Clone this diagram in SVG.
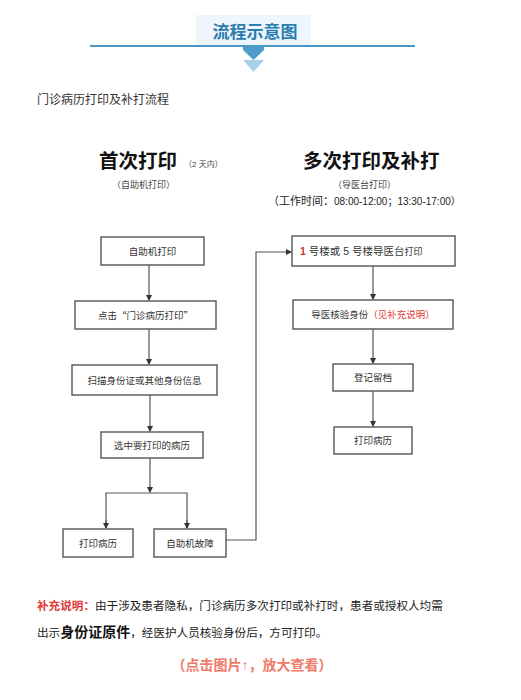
<svg xmlns="http://www.w3.org/2000/svg" width="521" height="700" viewBox="0 0 521 700">
<defs>
<style>
text{font-family:"Liberation Sans","Noto Sans CJK SC",sans-serif;fill:#333}
.cjk{font-family:"Noto Sans CJK SC",sans-serif}
.box{fill:#fff;stroke:#555;stroke-width:1.4}
.bt{font-size:9.5px;text-anchor:middle;fill:#333}
.ln{fill:none;stroke:#555;stroke-width:1.2}
.big{font-size:19.5px;font-weight:bold;fill:#111}
.red{fill:#e23a3a}
</style>
<marker id="ah" markerWidth="6" markerHeight="6" refX="5" refY="3" orient="auto" markerUnits="userSpaceOnUse">
<path d="M0,0 L6,3 L0,6 z" fill="#333"/>
</marker>
</defs>
<rect width="521" height="700" fill="#fff"/>
<g id="header">
<rect x="196" y="15" width="115" height="30" fill="#eef5fc"/>
<text x="255" y="38" style="font-size:17px;font-weight:bold;fill:#2a7db0;text-anchor:middle">流程示意图</text>
<line x1="90" y1="46" x2="415" y2="46" stroke="#4a98c6" stroke-width="2"/>
<path d="M243,47 L264,47 L264,50 L253.5,60 L243,50 z" fill="#4f9cc9"/>
<path d="M243,60 L264,60 L253.5,72 z" fill="#a9d2ea"/>
</g>
<text x="37" y="104" style="font-size:12px;fill:#333">门诊病历打印及补打流程</text>
<g id="title-left">
<text x="99" y="168" class="big">首次打印</text>
<text x="184" y="167" style="font-size:8px;fill:#444">（2 天内）</text>
<text x="112" y="188" style="font-size:9px;fill:#444">（自助机打印）</text>
</g>
<g id="title-right">
<text x="303" y="168" class="big">多次打印及补打</text>
<text x="333" y="188" style="font-size:9px;fill:#444">（导医台打印）</text>
<text x="268" y="205" style="font-size:11px;fill:#222">（工作时间：<tspan style="font-size:10px">08:00-12:00；13:30-17:00）</tspan></text>
</g>
<g id="connectors">
<line class="ln" x1="149" y1="265" x2="149" y2="300" marker-end="url(#ah)"/>
<line class="ln" x1="149" y1="329" x2="149" y2="364" marker-end="url(#ah)"/>
<line class="ln" x1="150" y1="395" x2="150" y2="431" marker-end="url(#ah)"/>
<line class="ln" x1="150" y1="458" x2="150" y2="492" marker-end="url(#ah)"/>
<polyline class="ln" points="106,528 106,493 187,493 187,528"/>
<line class="ln" x1="106" y1="520" x2="106" y2="528" marker-end="url(#ah)"/>
<line class="ln" x1="187" y1="520" x2="187" y2="528" marker-end="url(#ah)"/>
<polyline class="ln" points="226,540 256,540 256,252 291,252" marker-end="url(#ah)"/>
<line class="ln" x1="373" y1="266" x2="373" y2="299" marker-end="url(#ah)"/>
<line class="ln" x1="373" y1="329" x2="373" y2="363" marker-end="url(#ah)"/>
<line class="ln" x1="373" y1="391" x2="373" y2="426" marker-end="url(#ah)"/>
</g>
<g id="n1"><rect class="box" x="101" y="237" width="103" height="28"/><text class="bt" x="152.5" y="254.5">自助机打印</text></g>
<g id="n2"><rect class="box" x="75" y="301" width="141" height="28"/><text class="bt cjk" x="145.5" y="318.5">点击“门诊病历打印”</text></g>
<g id="n3"><rect class="box" x="72" y="365" width="145" height="30"/><text class="bt" x="144.5" y="383.5">扫描身份证或其他身份信息</text></g>
<g id="n4"><rect class="box" x="101" y="432" width="102" height="26"/><text class="bt" x="152" y="448.5">选中要打印的病历</text></g>
<g id="n5"><rect class="box" x="63" y="529" width="70" height="28"/><text class="bt" x="98" y="546.5">打印病历</text></g>
<g id="n6"><rect class="box" x="154" y="529" width="72" height="28"/><text class="bt" x="190" y="546.5">自助机故障</text></g>
<g id="n7"><rect class="box" x="292" y="236" width="163" height="30"/><text x="300" y="255" style="font-size:10.5px;fill:#333"><tspan style="font-weight:bold;fill:#c0392b">1</tspan> 号楼或 5 号楼导医台<tspan style="font-size:9px">打印</tspan></text></g>
<g id="n8"><rect class="box" x="293" y="300" width="160" height="29"/><text class="bt" x="373" y="318">导医核验身份<tspan class="red">（见补充说明）</tspan></text></g>
<g id="n9"><rect class="box" x="333" y="364" width="80" height="27"/><text class="bt" x="373" y="381">登记留档</text></g>
<g id="n10"><rect class="box" x="334" y="427" width="78" height="27"/><text class="bt" x="373" y="444">打印病历</text></g>
<g id="note">
<text x="37" y="610" style="font-size:11.6px;fill:#222"><tspan class="red" style="font-weight:bold">补充说明：</tspan>由于涉及患者隐私，门诊病历多次打印或补打时，患者或授权人均需</text>
<text x="37" y="637" style="font-size:11.6px;fill:#222">出示<tspan style="font-size:14px;font-weight:bold;fill:#111">身份证原件</tspan>，经医护人员核验身份后，方可打印。</text>
<text x="252" y="670" style="font-size:14px;font-weight:bold;fill:#f07a68;text-anchor:middle">（点击图片↑，放大查看）</text>
</g>
</svg>
